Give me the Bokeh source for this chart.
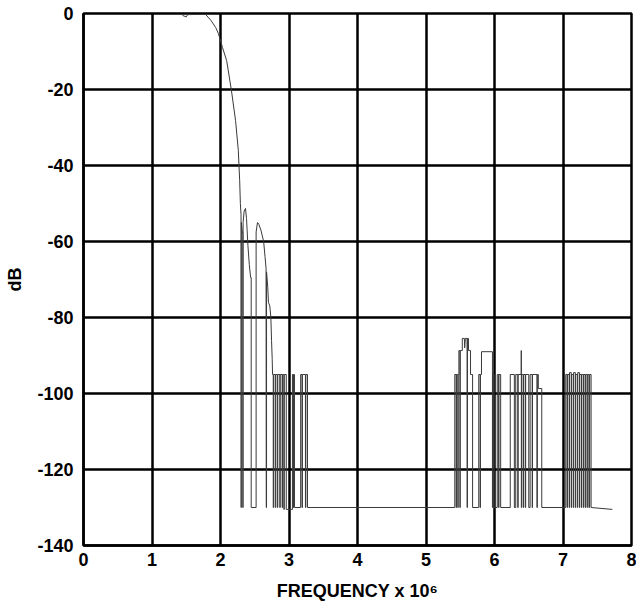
from bokeh.plotting import figure
from bokeh.models import Range1d, FixedTicker, CustomJSTickFormatter
from bokeh.embed import file_html
from bokeh.resources import INLINE

# ---- data (frequency x 1e6, dB) ----
x_ticks = [0, 1, 2, 3, 4, 5, 6, 7, 8]
y_ticks = [-140, -120, -100, -80, -60, -40, -20, 0]

pass_f = [1.445, 1.50, 1.52, 1.78, 1.86, 1.93, 1.97, 2.03, 2.09, 2.16, 2.22, 2.26, 2.28, 2.29,
          2.300, 2.300, 2.304, 2.304, 2.315, 2.326, 2.326, 2.330, 2.330, 2.345, 2.365, 2.38,
          2.40, 2.42, 2.44, 2.448, 2.448, 2.52, 2.52, 2.54, 2.56, 2.59, 2.63, 2.65, 2.665,
          2.668, 2.672, 2.672, 2.69, 2.70, 2.72, 2.735, 2.745, 2.755, 2.76]
pass_db = [-0.5, -0.9, -0.3, -0.2, -1.8, -3.7, -5.3, -9.0, -12.4, -20.3, -28.2, -36.0, -44.0, -50.0,
           -53.0, -130, -130, -55, -57, -58, -130, -130, -55, -52, -51.3, -54,
           -61, -66, -69.5, -69.5, -130, -130, -57.5, -55, -55.5, -57, -60, -64, -67,
           -130, -130, -68, -72, -76, -77, -80, -86, -91, -95]

stop1_f = [2.76, 2.77, 2.77, 2.776, 2.776, 2.80, 2.80, 2.806, 2.806, 2.83, 2.83, 2.836, 2.836,
           2.866, 2.866, 2.872, 2.872, 2.90, 2.90, 2.906, 2.906, 2.925, 2.925, 2.931, 2.931,
           2.96, 2.96, 3.05, 3.05, 3.062, 3.062, 3.066, 3.066, 3.08, 3.08, 3.17, 3.17, 3.19,
           3.19, 3.196, 3.196, 3.24, 3.24, 3.246, 3.246, 3.27, 3.27, 5.42]
stop1_db = [-95, -95, -130, -130, -95, -95, -130, -130, -95, -95, -130, -130, -95,
            -95, -130, -130, -95, -95, -130, -130, -95, -95, -130.5, -130.5, -95,
            -95, -130.5, -130.5, -95, -95, -130, -130, -95, -95, -130, -130, -95, -95,
            -130, -130, -95, -95, -130, -130, -95, -95, -130, -130]

band1_f = [5.42, 5.42, 5.44, 5.44, 5.445, 5.445, 5.465, 5.465, 5.47, 5.47, 5.48, 5.48, 5.495,
           5.495, 5.50, 5.50, 5.53, 5.53, 5.56, 5.565, 5.575, 5.60, 5.60, 5.605, 5.605, 5.62,
           5.62, 5.65, 5.65, 5.68, 5.68, 5.77, 5.77, 5.79, 5.79, 5.795, 5.795, 5.81, 5.81,
           5.97, 5.97, 5.975, 5.975, 5.995, 5.995, 6.04, 6.04, 6.06, 6.06, 6.065, 6.065, 6.09,
           6.09, 6.23]
band1_db = [-130, -95, -95, -130, -130, -95, -95, -130, -130, -95, -95, -88.7, -88.7,
            -130, -130, -88.7, -88.7, -85.5, -85.5, -88, -85.5, -85.5, -130, -130, -85.5, -85.5,
            -88.7, -88.7, -95, -95, -130, -130, -95, -95, -130, -130, -95, -95, -89,
            -89, -130, -130, -95, -95, -130, -130, -95, -95, -130, -130, -95, -95,
            -130, -130]

band2_f = [6.23, 6.23, 6.29, 6.29, 6.31, 6.31, 6.34, 6.34, 6.345, 6.345, 6.39, 6.39, 6.392,
           6.392, 6.397, 6.397, 6.42, 6.42, 6.425, 6.425, 6.45, 6.45, 6.455, 6.455, 6.50, 6.50,
           6.52, 6.52, 6.55, 6.55, 6.555, 6.555, 6.62, 6.62, 6.625, 6.625, 6.64, 6.64, 6.69,
           6.69, 7.04]
band2_db = [-130, -95, -95, -130, -130, -95, -95, -130, -130, -95, -95, -88.7, -88.7,
            -130, -130, -95, -95, -130, -130, -95, -95, -130, -130, -95, -95, -130,
            -130, -95, -95, -130, -130, -95, -95, -130, -130, -95, -95, -98.7, -98.7,
            -130, -130]

band3_f = [7.04, 7.04, 7.06, 7.06, 7.065, 7.065, 7.09, 7.09, 7.095, 7.095, 7.12, 7.12, 7.125,
           7.125, 7.15, 7.15, 7.155, 7.155, 7.18, 7.18, 7.185, 7.185, 7.21, 7.21, 7.215, 7.215,
           7.24, 7.24, 7.245, 7.245, 7.27, 7.27, 7.275, 7.275, 7.30, 7.30, 7.305, 7.305, 7.33,
           7.33, 7.335, 7.335, 7.36, 7.36, 7.365, 7.365, 7.385, 7.385, 7.39, 7.39, 7.41, 7.41,
           7.72]
band3_db = [-130, -95, -95, -130, -130, -95, -95, -130, -130, -94.5, -94.5, -130, -130,
            -95, -95, -130, -130, -94.5, -94.5, -130, -130, -95, -95, -130, -130, -94.5,
            -94.5, -130, -130, -95, -95, -130, -130, -95, -95, -130, -130, -95, -95,
            -130, -130, -95, -95, -130, -130, -95, -95, -130, -130, -95, -95, -130,
            -130.5]

freq = pass_f + stop1_f[1:] + band1_f[1:] + band2_f[1:] + band3_f[1:]
db = pass_db + stop1_db[1:] + band1_db[1:] + band2_db[1:] + band3_db[1:]

x_title = "FREQUENCY x 10\u2076"
y_title = "dB"

FONT = "Liberation Sans"

p = figure(width=636, height=607, output_backend="svg", toolbar_location=None,
           x_range=Range1d(0, 8), y_range=Range1d(-140, 0),
           min_border_left=83, min_border_right=5, min_border_top=13, min_border_bottom=62)

p.line(freq, db, line_color="#3a3a3a", line_width=1)

p.xaxis.ticker = FixedTicker(ticks=x_ticks)
p.yaxis.ticker = FixedTicker(ticks=y_ticks)
p.xaxis.formatter = CustomJSTickFormatter(code="return String(tick)")
p.yaxis.formatter = CustomJSTickFormatter(code="return String(tick)")

for ax in (p.xaxis, p.yaxis):
    ax.axis_line_color = "black"
    ax.axis_line_width = 2.5
    ax.major_tick_line_color = None
    ax.minor_tick_line_color = None
    ax.major_tick_out = 0
    ax.major_tick_in = 0
    ax.minor_tick_out = 0
    ax.minor_tick_in = 0
    ax.major_label_text_font = FONT
    ax.major_label_text_font_style = "bold"
    ax.major_label_text_font_size = "18px"
    ax.major_label_text_color = "black"
    ax.axis_label_text_font = FONT
    ax.axis_label_text_font_style = "bold"
    ax.axis_label_text_font_size = "18px"
    ax.axis_label_text_color = "black"

p.xaxis.axis_label = x_title
p.yaxis.axis_label = y_title
p.xaxis.major_label_standoff = 7
p.xaxis.axis_label_standoff = 12
p.yaxis.major_label_standoff = 10
p.yaxis.axis_label_standoff = 9

p.xgrid.ticker = FixedTicker(ticks=x_ticks)
p.ygrid.ticker = FixedTicker(ticks=y_ticks)
for g in (p.xgrid, p.ygrid):
    g.grid_line_color = "black"
    g.grid_line_width = 2.5
    g.grid_line_alpha = 1.0

p.outline_line_color = "black"
p.outline_line_width = 2.5
p.background_fill_color = "white"
p.border_fill_color = "white"

open("out.html", "w").write(file_html(p, INLINE))
